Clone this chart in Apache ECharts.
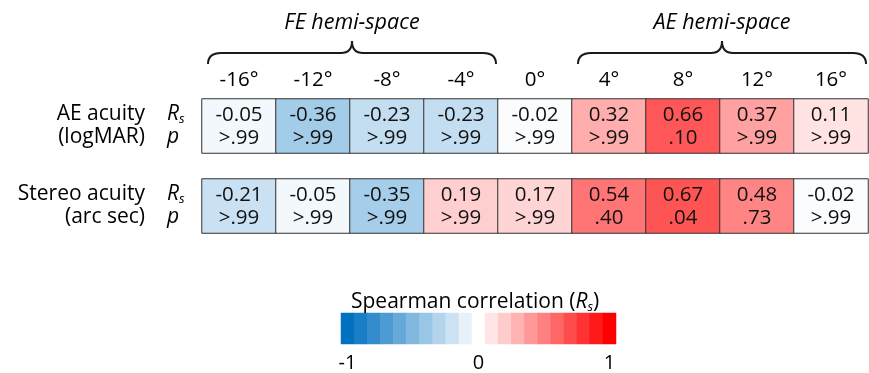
<!DOCTYPE html>
<html>
<head>
<meta charset="utf-8">
<script src="https://cdn.jsdelivr.net/npm/echarts@6/dist/echarts.min.js"></script>
<style>
  html, body { margin: 0; padding: 0; background: #fff; }
  #chart { width: 869px; height: 373px; }
</style>
</head>
<body>
<div id="chart"></div>
<script>
const colLabels = ['-16°', '-12°', '-8°', '-4°', '0°', '4°', '8°', '12°', '16°'];
const rsAE = [-0.05, -0.36, -0.23, -0.23, -0.02, 0.32, 0.66, 0.37, 0.11];
const pAE = ['>.99', '>.99', '>.99', '>.99', '>.99', '>.99', '.10', '>.99', '>.99'];
const rsStereo = [-0.21, -0.05, -0.35, 0.19, 0.17, 0.54, 0.67, 0.48, -0.02];
const pStereo = ['>.99', '>.99', '>.99', '>.99', '>.99', '.40', '.04', '.73', '>.99'];
const barSteps = [-1, -0.9, -0.8, -0.7, -0.6, -0.5, -0.4, -0.3, -0.2, -0.1, 0,
                  0.1, 0.2, 0.3, 0.4, 0.5, 0.6, 0.7, 0.8, 0.9, 1];
const barTicks = ['-1', '0', '1'];

const FONT = 'Open Sans';
const chart = echarts.init(document.getElementById('chart'));

const cellData = (rs, p) => rs.map((v, i) => ({ value: [i, 0, v], p: p[i] }));

const subRich = {
  i: { fontFamily: FONT, fontStyle: 'italic', fontSize: 21, lineHeight: 23, color: '#000' },
  s: { fontFamily: FONT, fontStyle: 'italic', fontSize: 13, lineHeight: 10, verticalAlign: 'bottom', color: '#000' }
};

const rowNameAxis = (grid, name) => ({
  type: 'category', gridIndex: grid, position: 'left', data: [name],
  axisLine: { show: false }, axisTick: { show: false },
  axisLabel: { margin: 57, fontFamily: FONT, fontSize: 21, lineHeight: 23, color: '#000' }
});
const statAxis = (grid) => ({
  type: 'category', gridIndex: grid, position: 'left', offset: 0, data: ['stat'],
  axisLine: { show: false }, axisTick: { show: false },
  axisLabel: {
    margin: 35, align: 'left',
    formatter: () => '{i|R}{s|s}\n{i|p}',
    rich: subRich
  }
});

const heat = (xi, yi, data) => ({
  type: 'heatmap', xAxisIndex: xi, yAxisIndex: yi, data: data,
  itemStyle: { borderColor: '#333', borderWidth: 1 },
  label: {
    show: true, fontFamily: FONT, fontSize: 20.5, lineHeight: 23, color: '#111',
    offset: [0, 1],
    formatter: (p) => p.value[2].toFixed(2) + '\n' + p.data.p
  },
  emphasis: { disabled: true }
});

const option = {
  animation: false,
  title: {
    left: 346, top: 286,
    text: 'Spearman correlation ({i|R}{s|s})',
    textStyle: {
      fontFamily: FONT, fontSize: 21, fontWeight: 'normal', color: '#000', lineHeight: 23,
      rich: subRich
    }
  },
  grid: [
    { left: 202, top: 99, width: 666, height: 54, outerBoundsMode: 'none' },
    { left: 202, top: 179, width: 666, height: 54, outerBoundsMode: 'none' },
    { left: 341, top: 313, width: 275, height: 31, outerBoundsMode: 'none' }
  ],
  xAxis: [
    {
      type: 'category', gridIndex: 0, position: 'top', data: colLabels,
      axisLine: { show: false }, axisTick: { show: false },
      axisLabel: { margin: 8, fontFamily: FONT, fontSize: 20.5, color: '#000' }
    },
    { type: 'category', gridIndex: 1, data: colLabels, show: false },
    {
      type: 'category', gridIndex: 2, data: barSteps,
      axisLine: { show: false }, axisTick: { show: false },
      axisLabel: {
        interval: 0, margin: 9, fontFamily: FONT, fontSize: 20, color: '#000',
        formatter: (v) => barTicks.includes(String(v)) ? String(v) : ''
      }
    }
  ],
  yAxis: [
    rowNameAxis(0, 'AE acuity\n(logMAR)'),
    statAxis(0),
    rowNameAxis(1, 'Stereo acuity\n(arc sec)'),
    statAxis(1),
    { type: 'category', gridIndex: 2, data: ['bar'], show: false }
  ],
  visualMap: {
    type: 'continuous', show: false, min: -1, max: 1, dimension: 2,
    seriesIndex: [0, 1, 2],
    inRange: { color: ['#0070c0', '#ffffff', '#ff0000'] }
  },
  series: [
    heat(0, 0, cellData(rsAE, pAE)),
    heat(1, 2, cellData(rsStereo, pStereo)),
    {
      type: 'heatmap', xAxisIndex: 2, yAxisIndex: 4,
      data: barSteps.map((v, i) => [i, 0, v]),
      emphasis: { disabled: true }
    }
  ]
};

chart.setOption(option);

// hemi-space braces over the column groups, built from curves and lines
const braceStyle = { fill: null, stroke: '#1a1a1a', lineWidth: 2 };
const curve = (x1, y1, cx, cy, x2, y2) => ({
  type: 'bezierCurve', shape: { x1, y1, cpx1: cx, cpy1: cy, x2, y2 }, style: braceStyle
});
const seg = (x1, y1, x2, y2) => ({
  type: 'line', shape: { x1, y1, x2, y2 }, style: braceStyle
});
const brace = (x0, x1, yTop) => {
  const xm = (x0 + x1) / 2, yb = yTop + 12, ye = yTop + 23;
  return [
    curve(x0, ye, x0, yb, x0 + 13, yb),
    seg(x0 + 13, yb, xm - 11, yb),
    curve(xm - 11, yb, xm, yb, xm, yTop),
    curve(xm, yTop, xm, yb, xm + 11, yb),
    seg(xm + 11, yb, x1 - 13, yb),
    curve(x1 - 13, yb, x1, yb, x1, ye)
  ];
};
const cx = (i) => chart.convertToPixel({ xAxisIndex: 0 }, i);
const groups = [
  { text: 'FE hemi-space', from: 0, to: 3 },
  { text: 'AE hemi-space', from: 5, to: 8 }
];
let elements = [];
groups.forEach((g) => {
  const x0 = cx(g.from) - 31, x1 = cx(g.to) + 35;
  elements = elements.concat(brace(x0, x1, 41));
  elements.push({
    type: 'text', x: (x0 + x1) / 2, y: 23,
    style: {
      text: g.text, fontFamily: FONT, fontStyle: 'italic', fontSize: 21.5,
      fill: '#000', align: 'center', verticalAlign: 'middle'
    }
  });
});
chart.setOption({ graphic: elements });
</script>
</body>
</html>
